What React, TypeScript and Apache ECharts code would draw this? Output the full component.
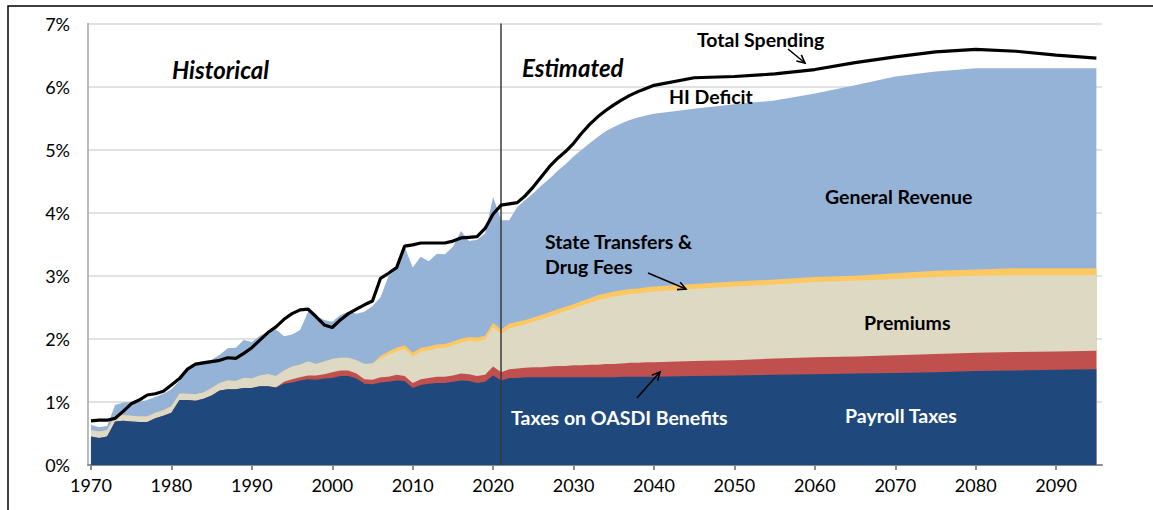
import React, { useEffect, useRef } from "react";
import * as echarts from "echarts";

// Years (yearly through 2040, then every 5 years)
const years = [
  1970, 1971, 1972, 1973, 1974, 1975, 1976, 1977, 1978, 1979,
  1980, 1981, 1982, 1983, 1984, 1985, 1986, 1987, 1988, 1989,
  1990, 1991, 1992, 1993, 1994, 1995, 1996, 1997, 1998, 1999,
  2000, 2001, 2002, 2003, 2004, 2005, 2006, 2007, 2008, 2009,
  2010, 2011, 2012, 2013, 2014, 2015, 2016, 2017, 2018, 2019,
  2020, 2021, 2022, 2023, 2024, 2025, 2026, 2027, 2028, 2029,
  2030, 2031, 2032, 2033, 2034, 2035, 2036, 2037, 2038, 2039,
  2040, 2045, 2050, 2055, 2060, 2065, 2070, 2075, 2080, 2085, 2090, 2095,
];

// Upper edge of each band, % of GDP
const payrollTop = [
  0.45, 0.43, 0.45, 0.69, 0.70, 0.69, 0.68, 0.68, 0.74, 0.78,
  0.83, 1.03, 1.03, 1.02, 1.05, 1.10, 1.18, 1.20, 1.20, 1.22,
  1.22, 1.25, 1.25, 1.23, 1.29, 1.31, 1.34, 1.36, 1.35, 1.37,
  1.38, 1.41, 1.41, 1.37, 1.29, 1.28, 1.31, 1.32, 1.34, 1.33,
  1.22, 1.27, 1.29, 1.30, 1.30, 1.32, 1.34, 1.33, 1.30, 1.32,
  1.42, 1.34, 1.38, 1.38, 1.39, 1.39, 1.39, 1.39, 1.39, 1.39,
  1.39, 1.39, 1.39, 1.39, 1.39, 1.39, 1.40, 1.40, 1.40, 1.40,
  1.40, 1.41, 1.42, 1.43, 1.44, 1.45, 1.46, 1.47, 1.49, 1.50, 1.51, 1.52,
];

const oasdiTop = [
  0.45, 0.43, 0.45, 0.69, 0.70, 0.69, 0.68, 0.68, 0.74, 0.78,
  0.83, 1.03, 1.03, 1.02, 1.05, 1.10, 1.18, 1.20, 1.20, 1.22,
  1.22, 1.25, 1.25, 1.23, 1.32, 1.36, 1.39, 1.42, 1.42, 1.44,
  1.47, 1.50, 1.50, 1.45, 1.36, 1.35, 1.39, 1.40, 1.43, 1.41,
  1.30, 1.36, 1.38, 1.40, 1.40, 1.42, 1.45, 1.44, 1.41, 1.43,
  1.56, 1.47, 1.52, 1.53, 1.54, 1.55, 1.55, 1.56, 1.57, 1.57,
  1.58, 1.58, 1.59, 1.59, 1.60, 1.60, 1.61, 1.62, 1.62, 1.63,
  1.63, 1.65, 1.66, 1.69, 1.71, 1.72, 1.74, 1.76, 1.78, 1.79, 1.80, 1.81,
];

const premiumsTop = [
  0.55, 0.53, 0.55, 0.79, 0.79, 0.78, 0.77, 0.77, 0.83, 0.87,
  0.93, 1.13, 1.13, 1.12, 1.15, 1.22, 1.30, 1.34, 1.33, 1.38,
  1.37, 1.42, 1.44, 1.41, 1.50, 1.56, 1.59, 1.64, 1.60, 1.64,
  1.68, 1.70, 1.70, 1.66, 1.60, 1.61, 1.69, 1.75, 1.80, 1.84,
  1.72, 1.80, 1.82, 1.85, 1.86, 1.90, 1.94, 1.97, 1.96, 1.99,
  2.18, 2.08, 2.17, 2.20, 2.23, 2.27, 2.31, 2.35, 2.40, 2.44,
  2.48, 2.53, 2.57, 2.61, 2.64, 2.67, 2.69, 2.71, 2.72, 2.74,
  2.75, 2.79, 2.83, 2.86, 2.90, 2.92, 2.95, 2.98, 3.00, 3.01, 3.01, 3.01,
];

const stateDrugTop = [
  0.55, 0.53, 0.55, 0.79, 0.79, 0.78, 0.77, 0.77, 0.83, 0.87,
  0.93, 1.13, 1.13, 1.12, 1.15, 1.22, 1.30, 1.34, 1.33, 1.38,
  1.37, 1.42, 1.44, 1.41, 1.50, 1.56, 1.59, 1.64, 1.60, 1.64,
  1.68, 1.70, 1.70, 1.66, 1.60, 1.61, 1.73, 1.80, 1.86, 1.90,
  1.78, 1.86, 1.88, 1.91, 1.92, 1.96, 2.00, 2.03, 2.02, 2.05,
  2.25, 2.15, 2.24, 2.27, 2.30, 2.34, 2.38, 2.42, 2.47, 2.51,
  2.55, 2.60, 2.64, 2.69, 2.72, 2.75, 2.77, 2.79, 2.80, 2.82,
  2.83, 2.87, 2.91, 2.94, 2.98, 3.00, 3.04, 3.08, 3.10, 3.12, 3.12, 3.12,
];

const generalRevenueTop = [
  0.64, 0.60, 0.62, 0.95, 0.99, 1.00, 1.00, 1.03, 1.08, 1.13,
  1.20, 1.33, 1.52, 1.62, 1.65, 1.67, 1.75, 1.85, 1.86, 1.98,
  1.95, 2.05, 2.11, 2.15, 2.04, 2.07, 2.14, 2.43, 2.36, 2.30,
  2.27, 2.38, 2.43, 2.40, 2.43, 2.52, 2.66, 3.00, 3.10, 3.46,
  3.13, 3.30, 3.23, 3.35, 3.34, 3.46, 3.71, 3.55, 3.57, 3.67,
  4.25, 3.88, 3.88, 4.09, 4.20, 4.31, 4.43, 4.54, 4.66, 4.77,
  4.89, 5.00, 5.10, 5.20, 5.29, 5.36, 5.42, 5.47, 5.51, 5.54,
  5.57, 5.65, 5.72, 5.78, 5.89, 6.02, 6.16, 6.24, 6.29, 6.29, 6.29, 6.29,
];

const totalSpending = [
  0.70, 0.71, 0.71, 0.74, 0.85, 0.97, 1.03, 1.11, 1.13, 1.17,
  1.27, 1.37, 1.52, 1.60, 1.62, 1.64, 1.66, 1.70, 1.69, 1.77,
  1.86, 1.98, 2.10, 2.19, 2.31, 2.40, 2.46, 2.47, 2.35, 2.22,
  2.18, 2.30, 2.40, 2.47, 2.54, 2.60, 2.96, 3.04, 3.13, 3.47,
  3.49, 3.52, 3.52, 3.52, 3.52, 3.55, 3.60, 3.61, 3.62, 3.75,
  3.98, 4.12, 4.14, 4.16, 4.27, 4.41, 4.57, 4.73, 4.86, 4.97,
  5.10, 5.26, 5.40, 5.52, 5.62, 5.71, 5.79, 5.86, 5.92, 5.97,
  6.02, 6.14, 6.16, 6.20, 6.27, 6.38, 6.47, 6.55, 6.59, 6.56, 6.50, 6.45,
];

const xTickYears = [1970, 1980, 1990, 2000, 2010, 2020, 2030, 2040, 2050, 2060, 2070, 2080, 2090];
const estimateStartYear = 2021;

const FONT = "Lato, 'Open Sans', sans-serif";

function pairs(vals: number[]) {
  return years.map((y, i) => [y, vals[i]]);
}

function areaSeries(name: string, vals: number[], color: string) {
  return {
    name,
    type: "line",
    data: pairs(vals),
    symbol: "none",
    lineStyle: { width: 0 },
    areaStyle: { color, opacity: 1 },
    itemStyle: { color },
    silent: true,
  };
}

function label(text: string, x: number, y: number, opts: any = {}) {
  return {
    type: "text",
    x,
    y,
    z: 100,
    style: {
      text,
      fill: opts.fill || "#000",
      fontFamily: FONT,
      fontSize: opts.size || 19.5,
      fontWeight: "bold",
      fontStyle: opts.italic ? "italic" : "normal",
      align: "left",
      verticalAlign: "middle",
    },
  };
}

function arrow(shaft: number[][], head: number[][]) {
  return [
    { type: "polyline", z: 100, shape: { points: shaft }, style: { stroke: "#000", lineWidth: 1.6, fill: null } },
    { type: "polyline", z: 100, shape: { points: head }, style: { stroke: "#000", lineWidth: 1.6, fill: null } },
  ];
}

export default function App() {
  const ref = useRef<HTMLDivElement>(null);

  useEffect(() => {
    if (!ref.current) return;
    const chart = echarts.init(ref.current, null, { renderer: "svg" });
    chart.setOption({
      animation: false,
      backgroundColor: "#fff",
      grid: { left: 88, right: 51, top: 23.5, bottom: 45 },
      xAxis: {
        type: "value",
        min: 1969.63,
        max: 2095.7,
        splitLine: { show: false },
        axisLine: { show: true, lineStyle: { color: "#8c8c8c", width: 2 } },
        axisTick: { show: true, length: 5, lineStyle: { color: "#8c8c8c", width: 2 }, customValues: xTickYears },
        axisLabel: {
          customValues: xTickYears,
          color: "#000",
          fontSize: 18,
          fontFamily: FONT,
          margin: 11,
          formatter: (v: number) => String(v),
        },
      },
      yAxis: {
        type: "value",
        min: 0,
        max: 7,
        interval: 1,
        axisLine: { show: true, lineStyle: { color: "#a6a6a6", width: 1.5 } },
        axisTick: { show: false },
        splitLine: { show: true, lineStyle: { color: "#d9d9d9", width: 1.5 } },
        axisLabel: {
          formatter: "{value}%",
          color: "#000",
          fontSize: 18,
          fontFamily: FONT,
          margin: 18,
        },
      },
      series: [
        areaSeries("General Revenue", generalRevenueTop, "#95b3d7"),
        areaSeries("State Transfers & Drug Fees", stateDrugTop, "#fdc861"),
        areaSeries("Premiums", premiumsTop, "#ddd9c3"),
        areaSeries("Taxes on OASDI Benefits", oasdiTop, "#c0504d"),
        {
          ...areaSeries("Payroll Taxes", payrollTop, "#1f497d"),
          markLine: {
            silent: true,
            symbol: "none",
            label: { show: false },
            lineStyle: { color: "#3a3a3a", width: 1.5, type: "solid" },
            data: [{ xAxis: estimateStartYear }],
          },
        },
        {
          name: "Total Spending",
          type: "line",
          data: pairs(totalSpending),
          symbol: "none",
          lineStyle: { color: "#000", width: 3.2 },
          itemStyle: { color: "#000" },
          z: 10,
          silent: true,
        },
      ],
      graphic: [
        {
          type: "rect",
          shape: { x: 8, y: 6, width: 1200, height: 600 },
          style: { fill: null, stroke: "#000", lineWidth: 1.5 },
          z: 200,
          silent: true,
        },
        label("Historical", 172, 69, { size: 24, italic: true }),
        label("Estimated", 522, 67, { size: 24, italic: true }),
        label("Total Spending", 697, 39),
        label("HI Deficit", 669, 96),
        label("General Revenue", 825, 196),
        label("State Transfers &", 545, 241),
        label("Drug Fees", 545, 266),
        label("Premiums", 864, 322),
        label("Taxes on OASDI Benefits", 511, 417, { fill: "#fff" }),
        label("Payroll Taxes", 845, 415, { fill: "#fff" }),
        ...arrow([[788, 49], [805, 63]], [[796.3, 61.0], [805, 63], [801.3, 54.8]]),
        ...arrow([[648, 273], [686, 289]], [[677.0, 289.6], [686, 289], [680.2, 282.2]]),
        ...arrow([[637, 398], [660, 372]], [[657.7, 380.6], [660, 372], [651.7, 375.3]]),
      ],
    });
    return () => chart.dispose();
  }, []);

  return (
    <div
      ref={ref}
      style={{ position: "fixed", left: 0, top: 0, width: 1153, height: 510, background: "#fff" }}
    />
  );
}
